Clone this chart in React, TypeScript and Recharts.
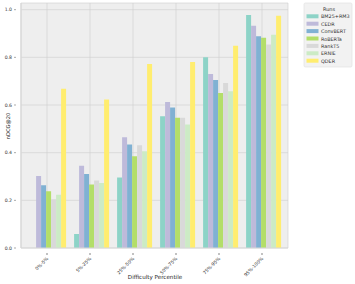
import React from 'react';
import { BarChart, Bar, XAxis, YAxis, CartesianGrid, Customized } from 'recharts';

const categories = ['0%-5%', '5%-25%', '25%-50%', '50%-75%', '75%-95%', '95%-100%'];
const seriesNames = ['BM25+RM3', 'CEDR', 'ConvBERT', 'RoBERTa', 'RankT5', 'ERNIE', 'QDER'];
const colors = ['#8dd3c7', '#bebada', '#80b1d3', '#b3de69', '#d9d9d9', '#ccebc5', '#ffed6f'];
const bm25 = [null, 0.059, 0.296, 0.553, 0.8, 0.978];
const cedr = [0.302, 0.345, 0.465, 0.613, 0.73, 0.933];
const convbert = [0.263, 0.311, 0.434, 0.59, 0.705, 0.889];
const roberta = [0.238, 0.266, 0.385, 0.546, 0.65, 0.882];
const rankt5 = [0.205, 0.283, 0.431, 0.546, 0.692, 0.854];
const ernie = [0.223, 0.273, 0.406, 0.518, 0.658, 0.895];
const qder = [0.668, 0.623, 0.772, 0.78, 0.849, 0.974];
const yTicks = [0, 0.2, 0.4, 0.6, 0.8, 1.0];

const seriesValues = [bm25, cedr, convbert, roberta, rankt5, ernie, qder];
const data = categories.map((c, i) => {
  const row: any = { cat: c };
  seriesNames.forEach((s, j) => { row[s] = seriesValues[j][i]; });
  return row;
});

const FONT = 'DejaVu Sans, sans-serif';

const XTick = (props: any) => {
  const { x, y, payload } = props;
  return (
    <g transform={`translate(${x},${y})`}>
      <line x1={0} y1={-3} x2={0} y2={-1} stroke="#333" strokeWidth={0.6} />
      <text x={-1} y={2} transform="rotate(-45)" textAnchor="end" dominantBaseline="middle" fontSize={4.6} fill="#333" fontFamily={FONT}>
        {payload.value}
      </text>
    </g>
  );
};

const YTick = (props: any) => {
  const { x, y, payload } = props;
  return (
    <g>
      <line x1={x + 1} y1={y} x2={x + 3} y2={y} stroke="#555" strokeWidth={0.5} />
      <text x={x - 1} y={y} textAnchor="end" dominantBaseline="central" fontSize={4.6} fill="#333" fontFamily={FONT}>
        {payload.value.toFixed(1)}
      </text>
    </g>
  );
};

const Frame = (props: any) => {
  const { offset } = props;
  if (!offset) return null;
  return (
    <rect x={offset.left} y={offset.top} width={offset.width} height={offset.height} fill="none" stroke="#d8d8d8" strokeWidth={1} />
  );
};

const LegendBox = () => {
  const x0 = 304, y0 = 3;
  return (
    <g>
      <rect x={x0} y={y0} width={48} height={64} rx={1.5} fill="#f2f2f2" stroke="#dddddd" strokeWidth={0.6} />
      <text x={x0 + 25} y={y0 + 6} textAnchor="middle" dominantBaseline="central" fontSize={5} fill="#333" fontFamily={FONT}>Runs</text>
      {seriesNames.map((s, i) => (
        <g key={s}>
          <rect x={x0 + 2.5} y={y0 + 11.3 + i * 7.4} width={12} height={4} fill={colors[i]} />
          <text x={x0 + 17} y={y0 + 13.4 + i * 7.4} dominantBaseline="central" fontSize={4.9} fill="#333" fontFamily={FONT}>{s}</text>
        </g>
      ))}
    </g>
  );
};

const Labels = () => (
  <g>
    <text x={155} y={277} textAnchor="middle" dominantBaseline="central" fontSize={5.6} fill="#222" fontFamily={FONT}>Difficulty Percentile</text>
    <text x={8} y={126} transform="rotate(-90, 8, 126)" textAnchor="middle" dominantBaseline="central" fontSize={5.2} fill="#222" fontFamily={FONT}>nDCG@20</text>
  </g>
);

export default function App() {
  return (
    <div style={{ position: 'absolute', left: 0, top: 0, width: 355, height: 284, background: '#fff' }}>
      <BarChart
        width={355}
        height={284}
        data={data}
        margin={{ top: 3, right: 67, left: 0, bottom: 0 }}
        barCategoryGap="13%"
        barGap={0}
      >
        <CartesianGrid stroke="#cfcfcf" strokeWidth={0.6} fill="#eeeeee" />
        <XAxis
          dataKey="cat"
          height={36}
          tick={<XTick />}
          tickLine={false}
          axisLine={{ stroke: '#d8d8d8', strokeWidth: 1.2 }}
          padding={{ left: 4.5, right: 4.5 }}
          interval={0}
        />
        <YAxis
          width={21}
          domain={[0, 1.028]}
          ticks={yTicks}
          tick={<YTick />}
          tickLine={false}
          axisLine={{ stroke: '#d8d8d8', strokeWidth: 1.2 }}
          allowDataOverflow
        />
        {seriesNames.map((s, i) => (
          <Bar key={s} dataKey={s} fill={colors[i]} isAnimationActive={false} />
        ))}
        <Customized component={Frame} />
        <Customized component={LegendBox} />
        <Customized component={Labels} />
      </BarChart>
    </div>
  );
}
